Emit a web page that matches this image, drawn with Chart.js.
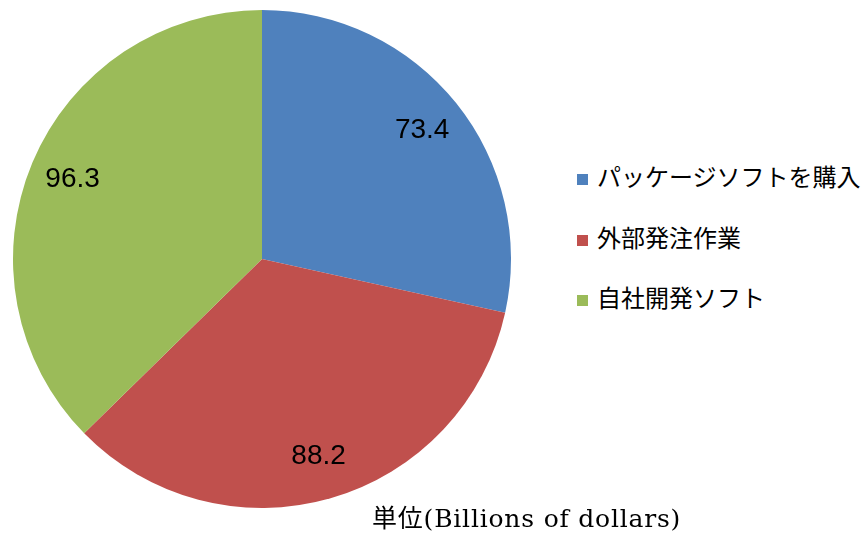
<!DOCTYPE html>
<html>
<head>
<meta charset="utf-8">
<script src="https://cdn.jsdelivr.net/npm/chart.js@4/dist/chart.umd.min.js"></script>
<style>
  html, body { margin: 0; padding: 0; background: #fff; }
  #wrap { position: relative; width: 864px; height: 539px; overflow: hidden; }
  #pie-box { position: absolute; left: 0; top: 0; width: 524px; height: 518px; }
  #legend { position: absolute; left: 577px; top: 158px; margin: 0; padding: 0; list-style: none;
    font-family: "Noto Sans CJK JP", sans-serif; font-size: 24px; color: #000; }
  #legend li { height: 60.5px; line-height: 36px; white-space: nowrap; }
  #legend .box { display: inline-block; width: 11px; height: 11px; margin-right: 9px; vertical-align: 1px; }
  #caption { position: absolute; left: 372px; top: 504px; width: 314px; line-height: 30px; overflow: hidden; white-space: nowrap;
    font-family: "DejaVu Serif", "Noto Sans CJK JP", serif; font-size: 25px; letter-spacing: 0.8px; color: #000; }
</style>
</head>
<body>
<div id="wrap">
  <div id="pie-box"><canvas id="pie"></canvas></div>
  <ul id="legend"></ul>
  <div id="caption">単位(Billions of dollars)</div>
</div>
<script>
// 市場規模の内訳
const categories = ['パッケージソフトを購入', '外部発注作業', '自社開発ソフト'];
const values = [73.4, 88.2, 96.3];
const colors = ['#4F81BD', '#C0504D', '#9BBB59'];

// value labels inside the slices
const sliceLabels = {
  id: 'sliceLabels',
  afterDatasetsDraw(chart) {
    const ctx = chart.ctx;
    const meta = chart.getDatasetMeta(0);
    ctx.save();
    ctx.font = '28px "Liberation Sans", Arial, sans-serif';
    ctx.fillStyle = '#000';
    ctx.textAlign = 'center';
    ctx.textBaseline = 'middle';
    meta.data.forEach((arc, i) => {
      const p = arc.getProps(['x', 'y', 'startAngle', 'endAngle', 'outerRadius'], true);
      const mid = (p.startAngle + p.endAngle) / 2;
      const r = p.outerRadius * 0.825;
      ctx.fillText(values[i].toFixed(1), p.x + Math.cos(mid) * r, p.y + Math.sin(mid) * r);
    });
    ctx.restore();
  }
};

new Chart(document.getElementById('pie'), {
  type: 'pie',
  data: {
    labels: categories,
    datasets: [{
      data: values,
      backgroundColor: colors,
      borderWidth: 0,
    }],
  },
  options: {
    responsive: true,
    maintainAspectRatio: false,
    animation: false,
    layout: { padding: { top: 10, bottom: 10, left: 13, right: 13 } },
    plugins: {
      legend: { display: false },
      tooltip: { enabled: false },
    },
  },
  plugins: [sliceLabels],
});

document.getElementById('legend').innerHTML = categories.map((c, i) =>
  `<li><span class="box" style="background:${colors[i]}"></span>${c}</li>`
).join('');
</script>
</body>
</html>
